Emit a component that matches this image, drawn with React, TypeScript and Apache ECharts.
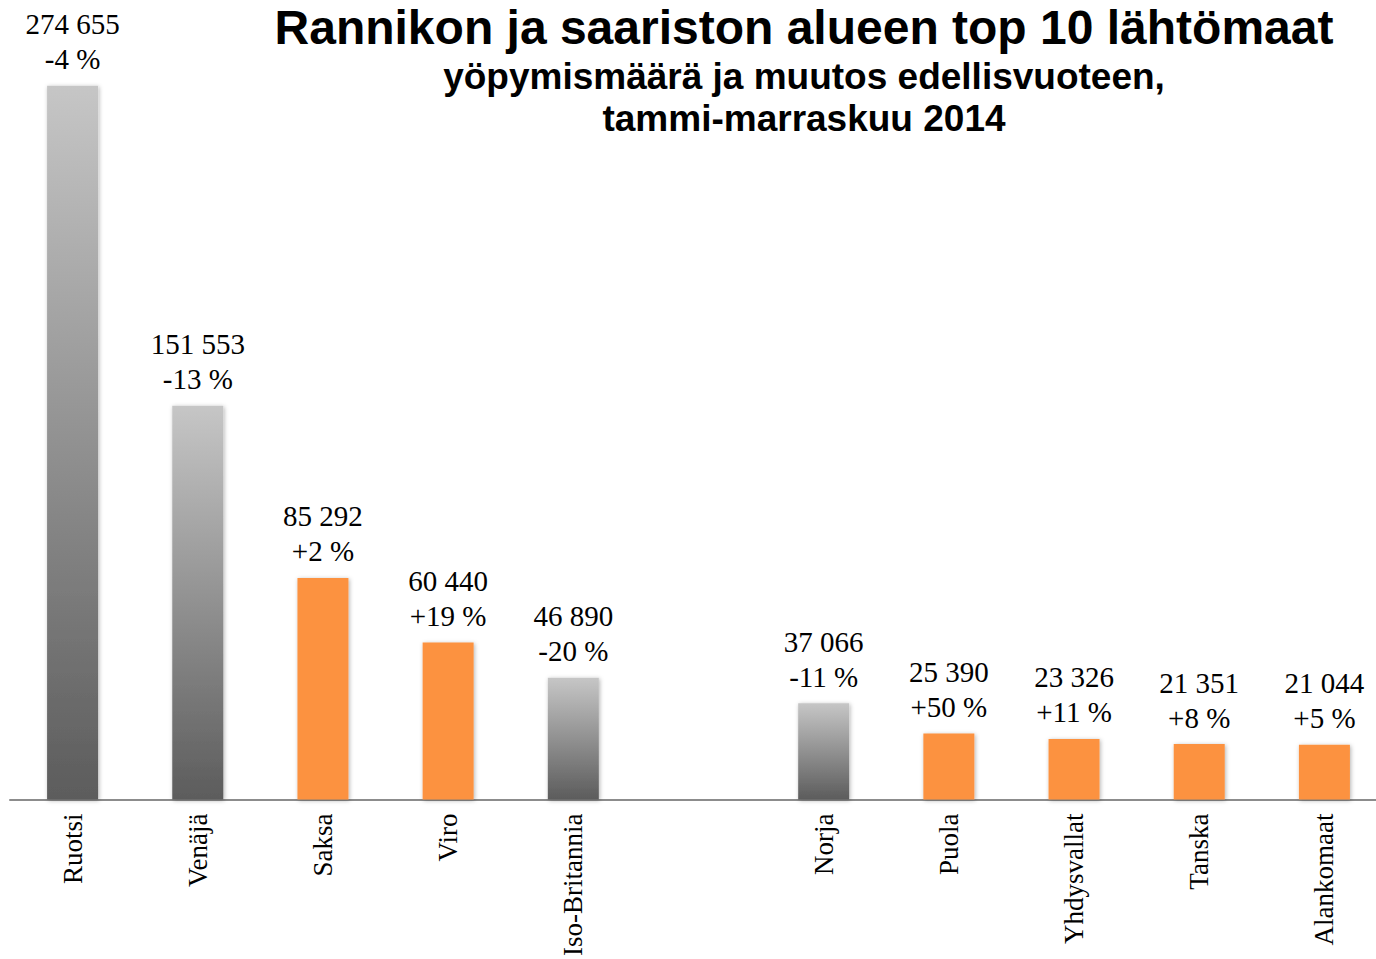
import React, { useEffect, useRef } from "react";
import * as echarts from "echarts";

const categories = ["Ruotsi", "Venäjä", "Saksa", "Viro", "Iso-Britannia", "", "Norja", "Puola", "Yhdysvallat", "Tanska", "Alankomaat"];
const nights: (number | null)[] = [274655, 151553, 85292, 60440, 46890, null, 37066, 25390, 23326, 21351, 21044];
const changes: (number | null)[] = [-4, -13, 2, 19, -20, null, -11, 50, 11, 8, 5];

const titleText = "Rannikon ja saariston alueen top 10 lähtömaat";
const subtitleText = "yöpymismäärä ja muutos edellisvuoteen,\ntammi-marraskuu 2014";

const fmtNum = (v: number) => String(v).replace(/\B(?=(\d{3})+(?!\d))/g, " ");
const fmtPct = (c: number) => (c > 0 ? "+" : "") + c + " %";

export default function App() {
  const ref = useRef<HTMLDivElement>(null);
  useEffect(() => {
    const chart = echarts.init(ref.current!, null, { renderer: "svg" });
    const grayGrad = new echarts.graphic.LinearGradient(0, 0, 0, 1, [
      { offset: 0, color: "#c6c6c6" },
      { offset: 1, color: "#5c5c5c" },
    ]);
    const data = nights.map((v, i) => {
      if (v == null) return { value: null };
      const c = changes[i] as number;
      return {
        value: v,
        itemStyle: { color: c < 0 ? grayGrad : "#fc923f" },
      };
    });
    chart.setOption({
      animation: false,
      title: {
        text: titleText,
        subtext: subtitleText,
        left: 799,
        textAlign: "center",
        top: -3,
        itemGap: 3,
        textStyle: { fontFamily: "Liberation Sans, Arial", fontWeight: "bold", fontSize: 48, lineHeight: 50, color: "#000" },
        subtextStyle: { fontFamily: "Liberation Sans, Arial", fontWeight: "bold", fontSize: 37, color: "#000", lineHeight: 42 },
      },
      grid: { left: 10, right: 13, top: 20, bottom: 158, containLabel: false },
      xAxis: {
        type: "category",
        data: categories,
        axisLine: { lineStyle: { color: "#8c8c8c", width: 2 } },
        axisTick: { show: false },
        axisLabel: {
          rotate: 90,
          interval: 0,
          margin: 14,
          fontFamily: "Liberation Serif, Times New Roman",
          fontSize: 27,
          color: "#000",
        },
      },
      yAxis: {
        type: "value",
        min: 0,
        max: 300000,
        show: false,
        splitLine: { show: false },
      },
      series: [
        {
          type: "bar",
          data,
          barWidth: 51,
          itemStyle: { shadowBlur: 4, shadowColor: "rgba(0,0,0,0.3)", shadowOffsetX: 1, shadowOffsetY: 1 },
          label: {
            show: true,
            position: "top",
            distance: 9,
            fontFamily: "Liberation Serif, Times New Roman",
            fontSize: 29,
            lineHeight: 35,
            color: "#000",
            formatter: (p: any) => {
              const i = p.dataIndex;
              if (nights[i] == null) return "";
              return fmtNum(nights[i] as number) + "\n" + fmtPct(changes[i] as number);
            },
          },
        },
      ],
    });
    return () => chart.dispose();
  }, []);
  return (
    <div style={{ position: "fixed", left: 0, top: 0, width: 1376, height: 959, overflow: "hidden", background: "#fff" }}>
      <div ref={ref} style={{ width: 1400, height: 959 }} />
    </div>
  );
}
